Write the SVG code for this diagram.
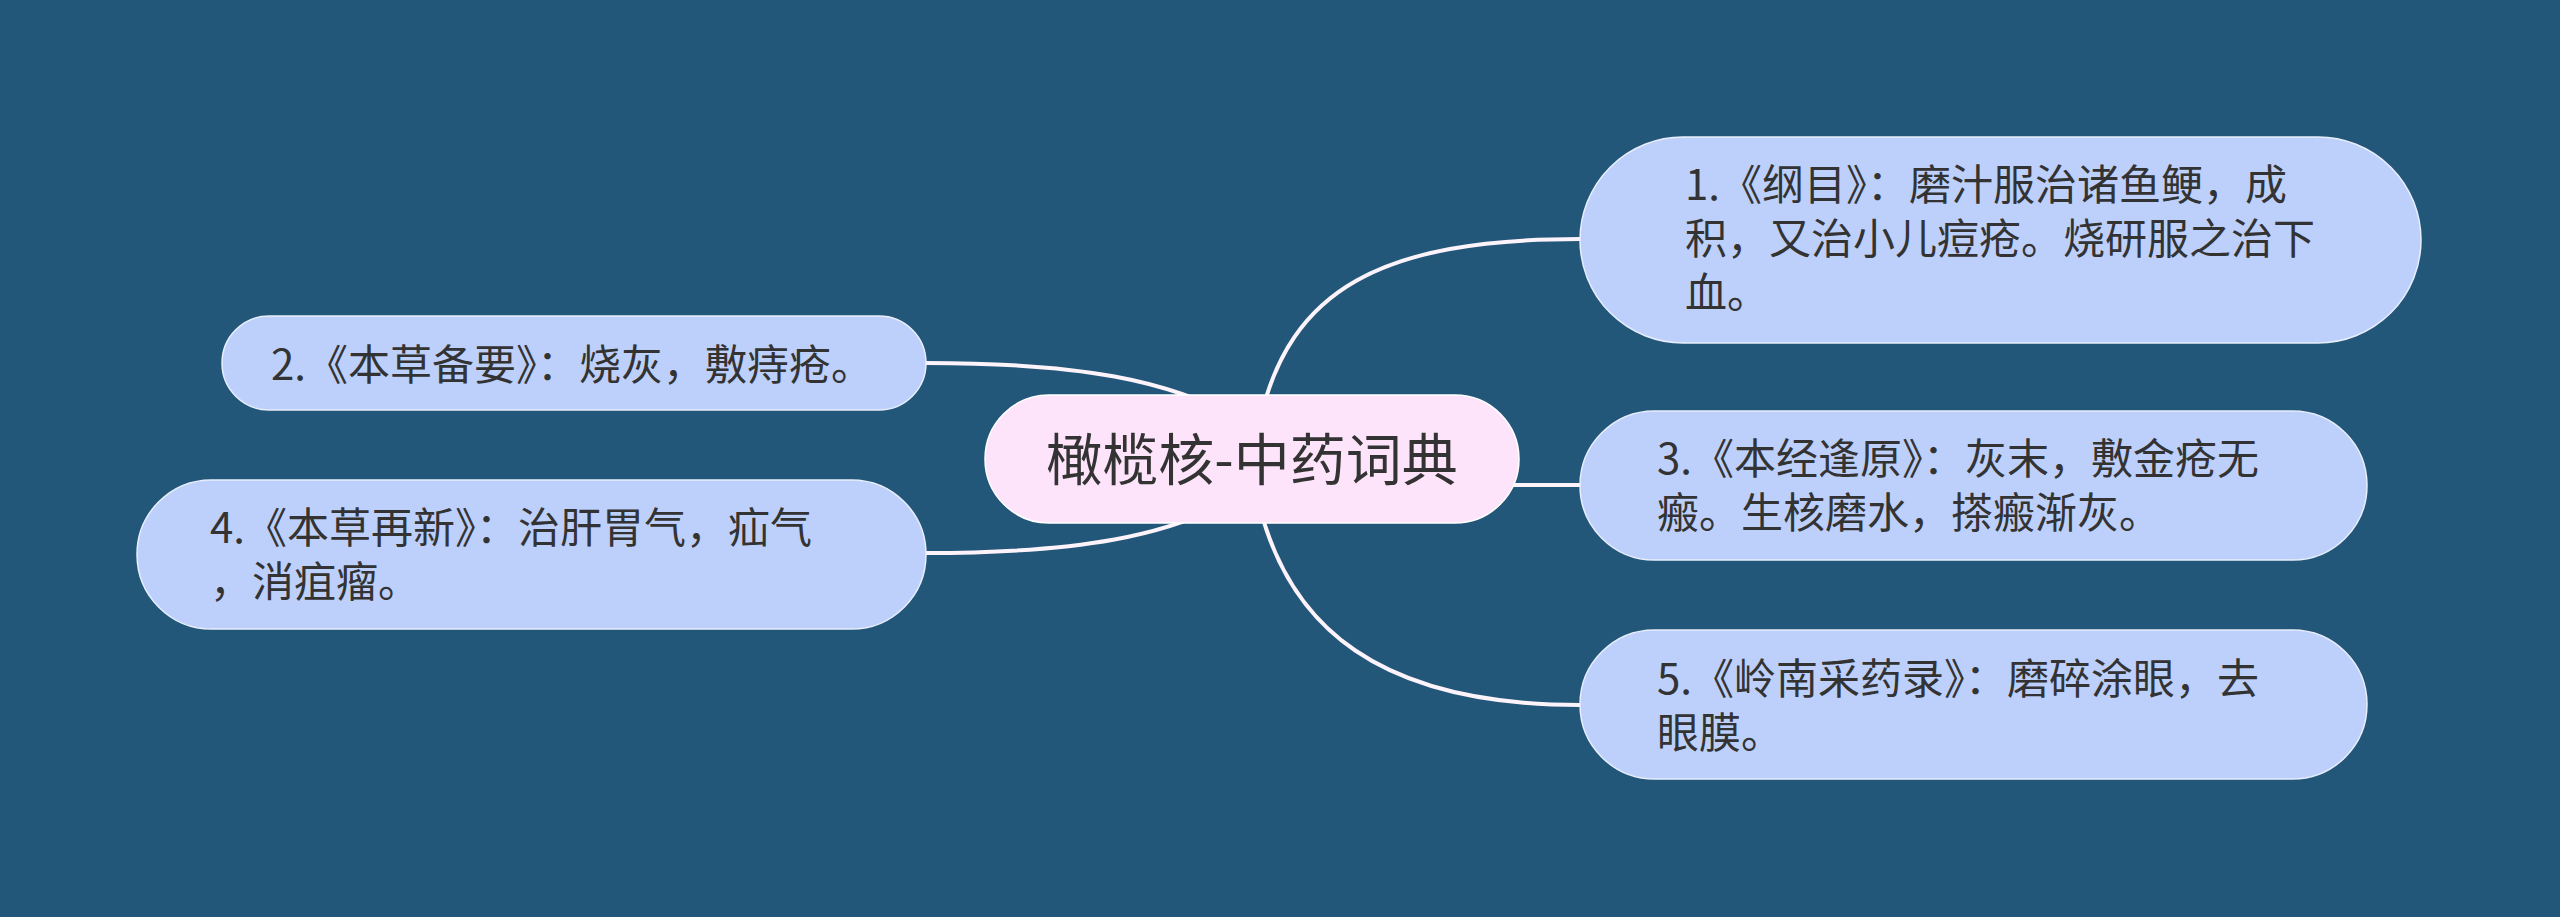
<svg xmlns="http://www.w3.org/2000/svg" width="2560" height="917" viewBox="0 0 2560 917">
<style>
.bg{fill:#235779}
.conn{fill:none;stroke:#fdf3fb;stroke-width:4;stroke-linecap:round}
.node{fill:#bdd0fb;stroke:#e8eefc;stroke-width:1.5}
.root{fill:#fde4fb;stroke:#ffffff;stroke-width:1.5}
.t{font-family:"Noto Sans CJK SC","Noto Sans",sans-serif;font-size:42px;fill:#333333}
.rt{font-family:"Noto Sans CJK SC","Noto Sans",sans-serif;font-size:56px;fill:#333333;text-anchor:middle}
</style>
<rect class="bg" x="0" y="0" width="2560" height="917"/>
<g id="connectors">
<path class="conn" d="M1260,420 C1290,290 1380,239 1580,239"/>
<path class="conn" d="M1258,500 C1288,628 1380,705 1580,705"/>
<path class="conn" d="M1500,485 L1590,485"/>
<path class="conn" d="M926,363 C1080,363 1170,380 1240,420"/>
<path class="conn" d="M926,553 C1080,553 1170,536 1240,496"/>
</g>
<g id="root">
<rect class="root" x="985" y="395" width="534" height="128" rx="64"/>
<text class="rt" x="1252" y="480">橄榄核-中药词典</text>
</g>
<g id="node1">
<rect class="node" x="1580" y="137" width="841" height="206" rx="103"/>
<text class="t" x="1685" y="200">1.《纲目》：磨汁服治诸鱼鲠，成</text>
<text class="t" x="1685" y="254">积，又治小儿痘疮。烧研服之治下</text>
<text class="t" x="1685" y="308">血。</text>
</g>
<g id="node2">
<rect class="node" x="222" y="316" width="704" height="94" rx="47"/>
<text class="t" x="271" y="380">2.《本草备要》：烧灰，敷痔疮。</text>
</g>
<g id="node3">
<rect class="node" x="1580" y="411" width="787" height="149" rx="74.5"/>
<text class="t" x="1657" y="474">3.《本经逢原》：灰末，敷金疮无</text>
<text class="t" x="1657" y="528">瘢。生核磨水，搽瘢渐灰。</text>
</g>
<g id="node4">
<rect class="node" x="137" y="480" width="789" height="149" rx="74.5"/>
<text class="t" x="210" y="543">4.《本草再新》：治肝胃气，疝气</text>
<text class="t" x="210" y="597">，消疽瘤。</text>
</g>
<g id="node5">
<rect class="node" x="1580" y="630" width="787" height="149" rx="74.5"/>
<text class="t" x="1657" y="694">5.《岭南采药录》：磨碎涂眼，去</text>
<text class="t" x="1657" y="748">眼膜。</text>
</g>
</svg>
